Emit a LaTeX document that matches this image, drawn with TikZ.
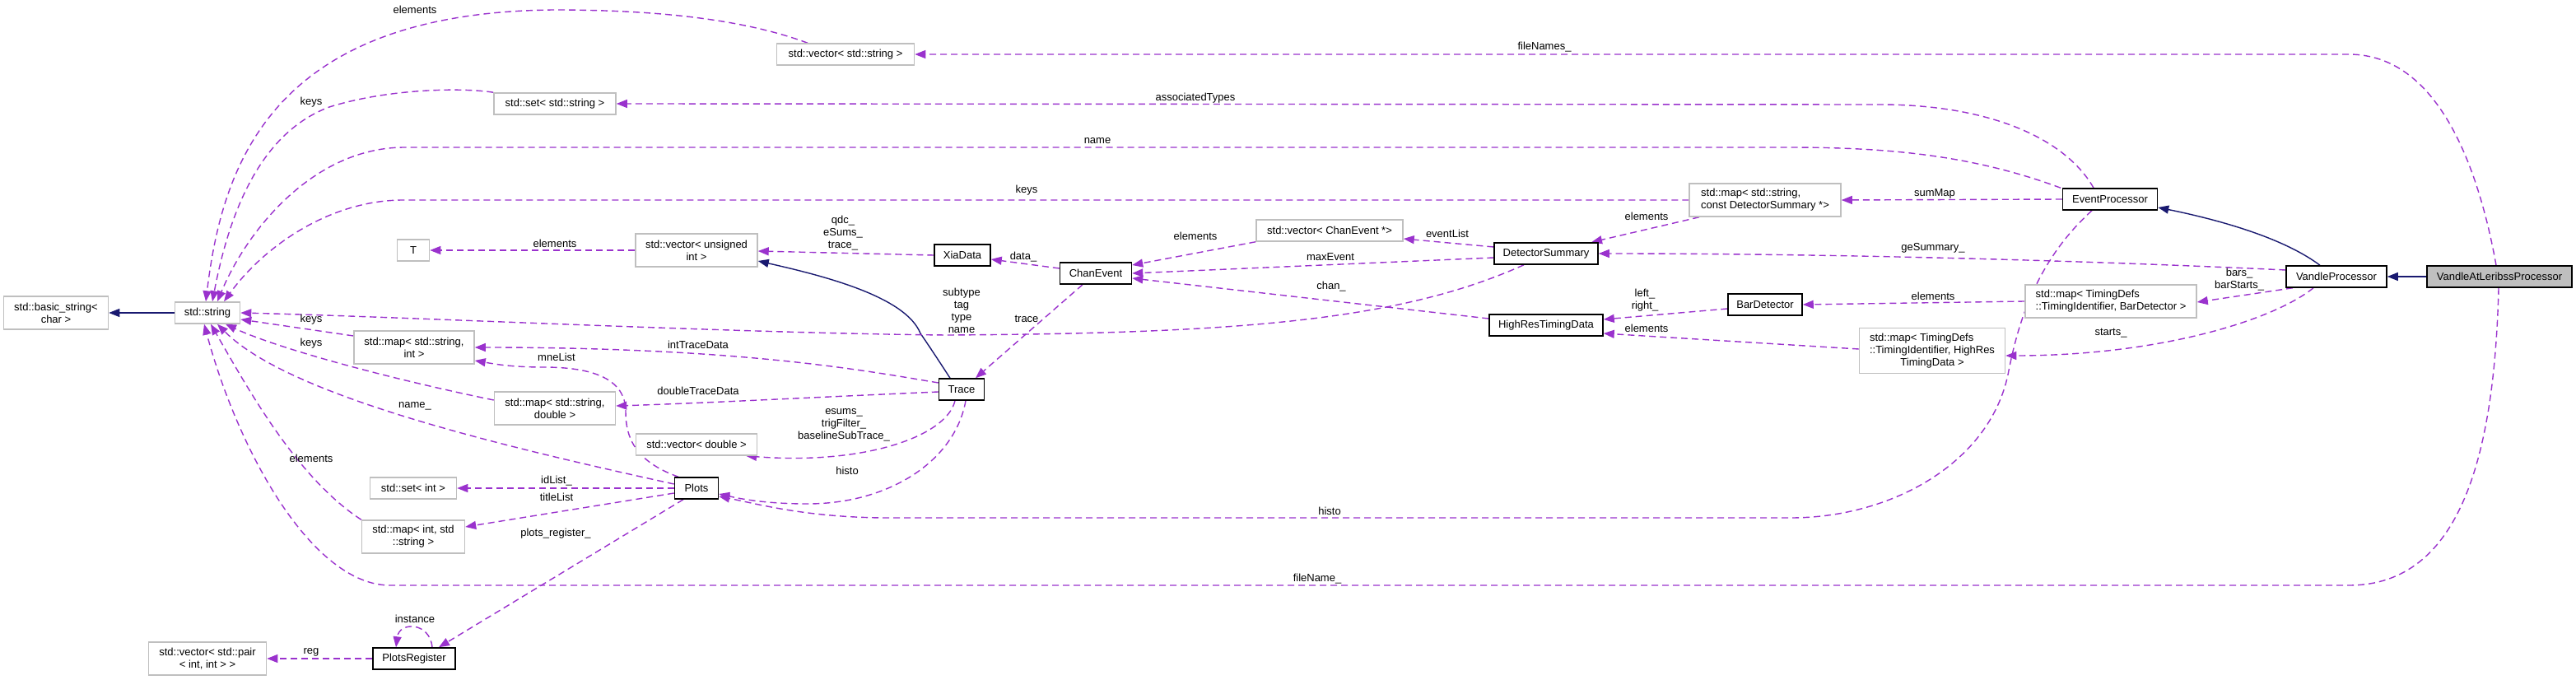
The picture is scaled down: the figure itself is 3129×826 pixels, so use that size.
\documentclass[tikz,border=0pt]{standalone}
\usepackage{fontspec}
\setmainfont{Liberation Sans}
\usepackage{tikz}
\usetikzlibrary{arrows.meta, backgrounds}

\definecolor{edgepurple}{HTML}{9A32CD}
\definecolor{inhblue}{HTML}{191970}
\definecolor{extgray}{HTML}{BFBFBF}

\begin{document}
\begin{tikzpicture}[
    x=1pt, y=-1pt,
    ext/.style={draw=extgray, fill=white, line width=1.5pt, minimum height=26pt, inner xsep=4pt, inner ysep=0pt, font=\fontsize{13}{15}\selectfont},
    cls/.style={ext, draw=black},
    two/.style={minimum height=40pt},
    three/.style={minimum height=55pt},
    lbl/.style={inner sep=0pt, align=center, font=\fontsize{13}{15}\selectfont},
    member/.style={draw=edgepurple, line width=1.4pt, dash pattern=on 8pt off 5pt, -{Triangle[length=13pt,width=10pt]}},
    inherit/.style={draw=inhblue, line width=1.4pt, -{Triangle[length=13pt,width=10pt]}}
]
    \useasboundingbox (0,0) rectangle (3129,826);

    % Classes
    \node[ext, minimum width=79pt] (str) at (252,380) {std::string};
    \node[ext, two, minimum width=127pt, align=center] (bstr) at (68,380) {std::basic\_string<\\char >};
    \node[ext, minimum width=167pt] (vecstr) at (1027,66) {std::vector< std::string >};
    \node[ext, minimum width=148pt] (setstr) at (674,126) {std::set< std::string >};
    \node[ext, minimum width=39pt] (T) at (502,304) {T};
    \node[ext, two, minimum width=148pt, align=center] (vecuint) at (846,304) {std::vector< unsigned\\int >};
    \node[ext, two, minimum width=146pt, align=center] (mapsi) at (503,422) {std::map< std::string,\\int >};
    \node[ext, two, minimum width=147pt, align=center] (mapsd) at (674,496) {std::map< std::string,\\double >};
    \node[ext, minimum width=147pt] (vecd) at (846,540) {std::vector< double >};
    \node[ext, minimum width=105pt] (setint) at (502,593) {std::set< int >};
    \node[ext, two, minimum width=125pt, align=center] (mapis) at (502,652) {std::map< int, std\\::string >};
    \node[ext, two, minimum width=143pt, align=center] (vecpair) at (252,800) {std::vector< std::pair\\< int, int > >};
    \node[cls, minimum width=100pt] (preg) at (503,800) {PlotsRegister};
    \node[cls, minimum width=53pt] (plots) at (846,593) {Plots};
    \node[cls, minimum width=55pt] (trace) at (1168,473) {Trace};
    \node[cls, minimum width=68pt] (xia) at (1169,310) {XiaData};
    \node[cls, minimum width=87pt] (chan) at (1331,332) {ChanEvent};
    \node[ext, minimum width=178pt] (vecchan) at (1615,280) {std::vector< ChanEvent *>};
    \node[cls, minimum width=126pt] (detsum) at (1878,308) {DetectorSummary};
    \node[cls, minimum width=138pt] (hrtd) at (1878,395) {HighResTimingData};
    \node[cls, minimum width=90pt] (bardet) at (2144,370) {BarDetector};
    \node[ext, two, minimum width=184pt, align=left] (mapsum) at (2144,243) {std::map< std::string,\\ const DetectorSummary *>};
    \node[ext, two, minimum width=208pt, align=left] (mapbar) at (2564,366) {std::map< TimingDefs\\::TimingIdentifier, BarDetector >};
    \node[ext, three, minimum width=177pt] (maphr) at (2347,426) {\begin{tabular}{@{}l@{}}std::map< TimingDefs\\::TimingIdentifier, HighRes\\\multicolumn{1}{@{}c@{}}{TimingData >}\end{tabular}};
    \node[cls, minimum width=115pt] (evp) at (2563,242) {EventProcessor};
    \node[cls, minimum width=122pt] (vandle) at (2838,336) {VandleProcessor};
    \node[cls, fill=extgray, minimum width=176pt] (leribss) at (3036,336) {VandleAtLeribssProcessor};

    % Labels
    \node[lbl] (l-vecstr) at (504,12) {elements};
    \node[lbl] (l-setstr) at (378,124) {keys};
    \node[lbl] (l-name) at (1333,171) {name};
    \node[lbl] (l-assoc) at (1452,119) {associatedTypes};
    \node[lbl] (l-fnames) at (1876,57) {fileNames\_};
    \node[lbl] (l-sumkeys) at (1247,231) {keys};
    \node[lbl] (l-T) at (674,296) {elements};
    \node[lbl] (l-xia) at (1024,283) {qdc\_\\eSums\_\\trace\_};
    \node[lbl] (l-data) at (1243,312) {data\_};
    \node[lbl] (l-vecchan) at (1452,287) {elements};
    \node[lbl] (l-evlist) at (1758,284) {eventList};
    \node[lbl] (l-maxev) at (1616,312) {maxEvent};
    \node[lbl] (l-chan) at (1617,348) {chan\_};
    \node[lbl] (l-subtype) at (1168,377) {subtype\\tag\\type\\name};
    \node[lbl] (l-trace) at (1247,387) {trace};
    \node[lbl] (l-inttr) at (848,419) {intTraceData};
    \node[lbl] (l-dbltr) at (848,475) {doubleTraceData};
    \node[lbl] (l-esums) at (1025,516) {esums\_\\trigFilter\_\\baselineSubTrace\_};
    \node[lbl] (l-thisto) at (1029,572) {histo};
    \node[lbl] (l-summap) at (2350,235) {sumMap};
    \node[lbl] (l-sumel) at (2000,263) {elements};
    \node[lbl] (l-gesum) at (2348,301) {geSummary\_};
    \node[lbl] (l-lr) at (1998,365) {left\_\\right\_};
    \node[lbl] (l-barel) at (2348,360) {elements};
    \node[lbl] (l-hrel) at (2000,399) {elements};
    \node[lbl] (l-bars) at (2720,340) {bars\_\\barStarts\_};
    \node[lbl] (l-starts) at (2564,405) {starts\_};
    \node[lbl] (l-ehisto) at (1615,621) {histo};
    \node[lbl] (l-fname) at (1600,703) {fileName\_};
    \node[lbl] (l-sikeys) at (378,388) {keys};
    \node[lbl] (l-sdkeys) at (378,417) {keys};
    \node[lbl] (l-mne) at (676,434) {mneList};
    \node[lbl] (l-pname) at (504,493) {name\_};
    \node[lbl] (l-isel) at (378,557) {elements};
    \node[lbl] (l-idlist) at (676,584) {idList\_};
    \node[lbl] (l-title) at (676,604) {titleList};
    \node[lbl] (l-preg) at (675,648) {plots\_register\_};
    \node[lbl] (l-inst) at (504,752) {instance};
    \node[lbl] (l-reg) at (378,792) {reg};

    \begin{scope}[on background layer]
    % Inheritance
    \draw[inherit] (str) -- (bstr);
    \draw[inherit] (leribss) -- (vandle);
    \draw[inherit] ([xshift=-20pt]vandle.north) .. controls (2775,290) and (2700,268) .. ([yshift=-10pt]evp.east);
    \draw[inherit] ([xshift=-14pt]trace.north) .. controls (1135,430) and (1125,415) .. (1118,405) .. controls (1100,360) and (1000,335) .. ([yshift=-13pt]vecuint.east);

    % Members pointing to std::string
    \draw[member] ([xshift=-46pt]vecstr.north) .. controls (900,22) and (790,12) .. (673,12) .. controls (330,15) and (270,200) .. ([xshift=-2pt]str.north);
    \draw[member] (setstr.north west) .. controls (560,106) and (470,108) .. (400,130) .. controls (320,160) and (280,250) .. ([xshift=6pt]str.north);
    \draw[member] ([xshift=-60pt]evp.north) .. controls (2400,190) and (2300,179) .. (2174,179) -- (490,179) .. controls (380,180) and (300,280) .. ([xshift=12pt]str.north);
    \draw[member] (mapsum.west) -- (490,243) .. controls (400,243) and (320,300) .. ([xshift=20pt]str.north);
    \draw[member] ([xshift=-27pt]detsum.south) .. controls (1700,390) and (1500,405) .. (1150,407) .. controls (900,405) and (500,385) .. (str.east);
    \draw[member] ([yshift=14pt]mapsi.west) -- ([yshift=-8pt]str.east);
    \draw[member] ([yshift=10pt]mapsd.west) .. controls (450,455) and (330,420) .. ([xshift=22pt]str.south);
    \draw[member] ([yshift=5pt]plots.west) .. controls (600,540) and (350,480) .. ([xshift=12pt]str.south);
    \draw[member] (mapis.north west) .. controls (360,580) and (300,470) .. ([xshift=4pt]str.south);
    \draw[member] ([xshift=-1pt]leribss.south) .. controls (3030,550) and (2990,711) .. (2853,711) -- (474,711) .. controls (380,711) and (290,550) .. ([xshift=-4pt]str.south);

    % Other members
    \draw[member] (vecuint.west) -- (T.east);
    \draw[member] (xia.west) -- ([yshift=-1pt]vecuint.east);
    \draw[member] ([yshift=6pt]chan.west) -- ([yshift=-5pt]xia.east);
    \draw[member] (vecchan.south west) -- ([yshift=10pt]chan.east);
    \draw[member] ([yshift=-5pt]detsum.west) -- (chan.east);
    \draw[member] ([yshift=8pt]hrtd.west) -- ([yshift=-6pt]chan.east);
    \draw[member] ([yshift=8pt]detsum.west) -- ([yshift=-10pt]vecchan.east);
    \draw[member] ([xshift=-80pt]mapsum.south) -- ([xshift=55pt]detsum.north);
    \draw[member] (evp.west) -- (mapsum.east);
    \draw[member] ([yshift=8pt]vandle.west) .. controls (2500,315) and (2200,308) .. (detsum.east);
    \draw[member] ([xshift=-53pt]vandle.south) -- ([yshift=-1pt]mapbar.east);
    \draw[member] ([xshift=-28pt]vandle.south) .. controls (2760,390) and (2620,432) .. ([yshift=-6pt]maphr.east);
    \draw[member] (mapbar.west) -- (bardet.east);
    \draw[member] ([yshift=-5pt]bardet.west) -- ([yshift=7pt]hrtd.east);
    \draw[member] ([yshift=2pt]maphr.west) -- ([yshift=-10pt]hrtd.east);
    \draw[member] ([xshift=-16pt]chan.south) -- ([xshift=17pt]trace.north);
    \draw[member] ([yshift=8pt]trace.west) .. controls (1050,450) and (900,422) .. (mapsi.east);
    \draw[member] ([yshift=-3pt]trace.west) .. controls (1000,482) and (850,490) .. ([yshift=3pt]mapsd.east);
    \draw[member] ([xshift=-8pt]trace.south) .. controls (1150,530) and (1050,565) .. ([xshift=60pt]vecd.south);
    \draw[member] ([xshift=5pt]trace.south) .. controls (1160,560) and (1080,612) .. (981,612) .. controls (930,612) and (900,606) .. ([yshift=-7pt]plots.east);
    \draw[member] ([xshift=-22pt]evp.south) .. controls (2470,320) and (2450,400) .. (2440,450) .. controls (2420,560) and (2300,629) .. (2175,629) -- (1080,629) .. controls (980,629) and (920,612) .. ([yshift=-10pt]plots.east);
    \draw[member] ([xshift=-22pt]plots.north) .. controls (770,560) and (760,530) .. (760,500) .. controls (760,460) and (720,446) .. (660,446) .. controls (620,446) and (600,442) .. ([yshift=-16pt]mapsi.east);
    \draw[member] (plots.west) -- (setint.east);
    \draw[member] ([yshift=-6pt]plots.west) -- ([yshift=12pt]mapis.east);
    \draw[member] ([xshift=-16pt]plots.south) -- ([xshift=30pt]preg.north);
    \draw[member] ([xshift=22pt]preg.north) .. controls (522,755) and (485,755) .. ([xshift=-22pt]preg.north);
    \draw[member] (preg.west) -- (vecpair.east);
    \draw[member] ([xshift=-4pt]leribss.north) .. controls (3010,200) and (2960,66) .. (2853,66) -- (vecstr.east);
    \draw[member] ([xshift=-20pt]evp.north) .. controls (2510,170) and (2420,127) .. (2283,127) -- (setstr.east);
    \end{scope}
\end{tikzpicture}
\end{document}
